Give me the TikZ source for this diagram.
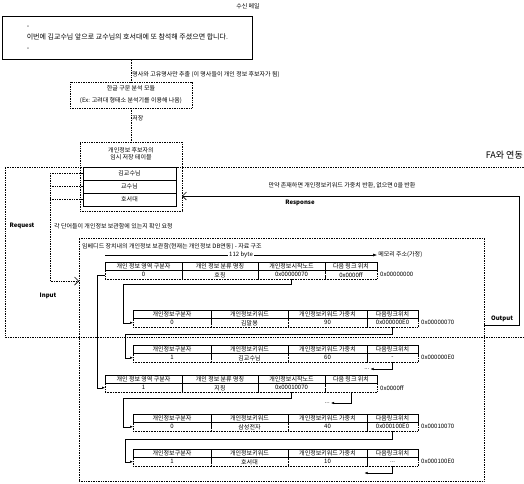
\documentclass[tikz,border=0pt]{standalone}
\usepackage{fontspec}
\setmainfont{Noto Sans CJK KR}
\usetikzlibrary{positioning, arrows.meta}

\tikzstyle{box} = [draw, densely dotted, line width=0.7pt, inner sep=0pt, outer sep=0pt]
\tikzstyle{note} = [font=\fontsize{6}{7}\selectfont, inner sep=1pt]
\tikzstyle{tag} = [font=\fontsize{6}{7}\selectfont\bfseries, inner sep=1pt]
\tikzstyle{hcell} = [draw, line width=0.7pt, inner sep=0pt, outer sep=0pt, minimum height=8.5pt, font=\fontsize{6}{6}\selectfont]
\tikzstyle{dcell} = [draw, densely dotted, line width=0.6pt, inner sep=0pt, outer sep=0pt, minimum height=8.5pt, font=\fontsize{6}{6}\selectfont]
\tikzstyle{cand} = [draw, line width=0.9pt, minimum width=93pt, minimum height=13pt, inner sep=0pt, outer sep=0pt, font=\fontsize{6}{6}\selectfont]
\tikzstyle{flow} = [densely dotted, line width=0.7pt]
\tikzstyle{ptr} = [-{Latex[length=3pt, width=2.5pt]}, line width=0.5pt]

% area table: name, position, four values, address
\newcommand{\areatable}[7]{%
    \node[hcell, minimum width=77pt, anchor=north west] (#1h1) at #2 {개인 정보 영역 구분자};
    \node[hcell, minimum width=76pt, right=0pt of #1h1] (#1h2) {개인 정보 분류 명칭};
    \node[hcell, minimum width=67pt, right=0pt of #1h2] (#1h3) {개인정보시작노드};
    \node[hcell, minimum width=52pt, right=0pt of #1h3] (#1h4) {다음 링크 위치};
    \node[dcell, minimum width=77pt, below=0pt of #1h1] (#1d1) {#3};
    \node[dcell, minimum width=76pt, below=0pt of #1h2] (#1d2) {#4};
    \node[dcell, minimum width=67pt, below=0pt of #1h3] (#1d3) {#5};
    \node[dcell, minimum width=52pt, below=0pt of #1h4] (#1d4) {#6};
    \node[note, right=2pt of #1d4] (#1a) {#7};
}
% keyword table: name, position, four values, address
\newcommand{\keytable}[7]{%
    \node[hcell, minimum width=78pt, anchor=north west] (#1h1) at #2 {개인정보구분자};
    \node[hcell, minimum width=77pt, right=0pt of #1h1] (#1h2) {개인정보키워드};
    \node[hcell, minimum width=79pt, right=0pt of #1h2] (#1h3) {개인정보키워드 가중치};
    \node[hcell, minimum width=51pt, right=0pt of #1h3] (#1h4) {다음링크위치};
    \node[dcell, minimum width=78pt, below=0pt of #1h1] (#1d1) {#3};
    \node[dcell, minimum width=77pt, below=0pt of #1h2] (#1d2) {#4};
    \node[dcell, minimum width=79pt, below=0pt of #1h3] (#1d3) {#5};
    \node[dcell, minimum width=51pt, below=0pt of #1h4] (#1d4) {#6};
    \node[note, right=2pt of #1d4] (#1a) {#7};
}

\begin{document}
\begin{tikzpicture}[x=1pt, y=-1pt]
    \useasboundingbox (0,0) rectangle (524,483);

    % mail and parsing
    \node[note] (mailtitle) at (248,6) {수신 메일};
    \node[draw, line width=0.8pt, minimum width=250pt, minimum height=43pt, anchor=north west,
          align=left, font=\fontsize{7}{11}\selectfont] (mail) at (2,16) {
        -\\이번에 김교수님 앞으로 교수님의 호서대에 또 참석해 주셨으면 합니다.\\-
    };
    \node[box, minimum width=122pt, minimum height=26pt, align=center,
          font=\fontsize{6}{12}\selectfont] (parse) at (131,95) {
        한글 구문 분석 모듈\\(Ex: 고려대 형태소 분석기를 이용해 나옴)
    };
    \draw[flow] (parse.north |- mail.south) -- (parse.north)
        node[note, pos=0.65, right] {명사와 고유명사만 추출 (이 명사들이 개인 정보 후보자가 됨)};

    % temporary table of candidates
    \node[box, minimum width=102pt, minimum height=69pt] (temp) at (131,176.5) {};
    \draw[flow] (parse.south) -- (temp.north) node[note, pos=0.3, right] {저장};
    \node[note, align=center, below=4pt of temp.north] (temphead) {개인정보 후보자의\\임시 저장 테이블};
    \node[cand, anchor=north] (row1) at (129.5,167) {김교수님};
    \node[cand, below=0pt of row1] (row2) {교수님};
    \node[cand, below=0pt of row2] (row3) {호서대};

    \node[font=\fontsize{9}{10}\selectfont, anchor=east, inner sep=0pt] (fa) at (523,155) {FA와 연동};
    \draw[flow] (524,167) -- (5,167) -- (5,337) -- (524,337);

    % storage
    \node[box, minimum width=405pt, minimum height=243pt, anchor=north west] (store) at (79,238) {};
    \node[note, anchor=north west] (storetitle) at (81,242) {임베디드 장치내의 개인정보 보관함(현재는 개인정보 DB연동) - 자료 구조};

    % request and response
    \coordinate (req) at (50,281);
    \draw[flow, -{Straight Barb[length=4pt, width=8pt]}] (row1.west) -| (req) -- (store.west |- req);
    \draw[flow] (row2.west) -- (row2.west -| req);
    \draw[flow] (row3.west) -- (row3.west -| req);
    \node[tag] at (22,226) {Request};
    \node[note, anchor=west] at (53,226) {각 단어들이 개인정보 보관함에 있는지 확인 요청};
    \node[tag] at (48,296) {Input};

    \coordinate (outp) at (519,325);
    \coordinate (resp) at (519,196);
    \draw[line width=0.6pt, -{Straight Barb[length=4pt, width=8pt]}] (store.east |- outp) -- (outp) -- (resp) -- (temp.east |- resp);
    \node[tag] at (502,319) {Output};
    \node[tag] at (300,203) {Response};
    \node[note] at (342,186) {만약 존재하면 개인정보키워드 가중치 반환, 없으면 0을 반환};

    % data structure
    \areatable{ta}{(105,262)}{0}{호칭}{0x00000070}{0x0000ff}{0x00000000}
    \draw[-{Latex[length=4pt]}, line width=0.5pt] ([yshift=7pt]tah1.north west) -- ([yshift=7pt]tah4.north east)
        node[note, fill=white, midway] {112 byte} node[note, right] {메모리 주소(가정)};
    \keytable{ka}{(133,310)}{0}{김말봉}{90}{0x000000E0}{0x00000070}
    \keytable{kb}{(133,345)}{1}{김교수님}{60}{-}{0x000000E0}
    \areatable{tb}{(105,375)}{1}{지칭}{0x00010070}{}{0x0000ff}
    \keytable{kc}{(133,414)}{0}{삼성전자}{40}{0x000100E0}{0x00010070}
    \keytable{kd}{(133,449)}{1}{호서대}{10}{...}{0x000100E0}

    \draw[ptr] (tad3.south) -- ++(0,5) -| ([xshift=-10pt]kad1.west) -- (kad1.west);
    \draw[ptr] (kad4.south) -- ++(0,7) -| ([xshift=-8pt]kbd1.west) -- (kbd1.west);
    \draw[ptr] (kbd4.south) -- ++(0,7) -- ++(-22,0) node[note, left] {...};
    \draw[ptr] (tad1.west) -- ++(-8,0) |- (tbd1.west);
    \draw[ptr] (tbd3.south) -- ++(0,6) -| ([xshift=-10pt]kcd1.west) -- (kcd1.west);
    \draw[ptr] (tbd4.south) -- ++(0,11) -- ++(-20,0) node[note, left] {...};
    \draw[ptr] (kcd4.south) -- ++(0,8) -| ([xshift=-8pt]kdd1.west) -- (kdd1.west);
    \draw[ptr] (kdd4.south) -- ++(0,7) -- ++(-28,0);

\end{tikzpicture}
\end{document}
